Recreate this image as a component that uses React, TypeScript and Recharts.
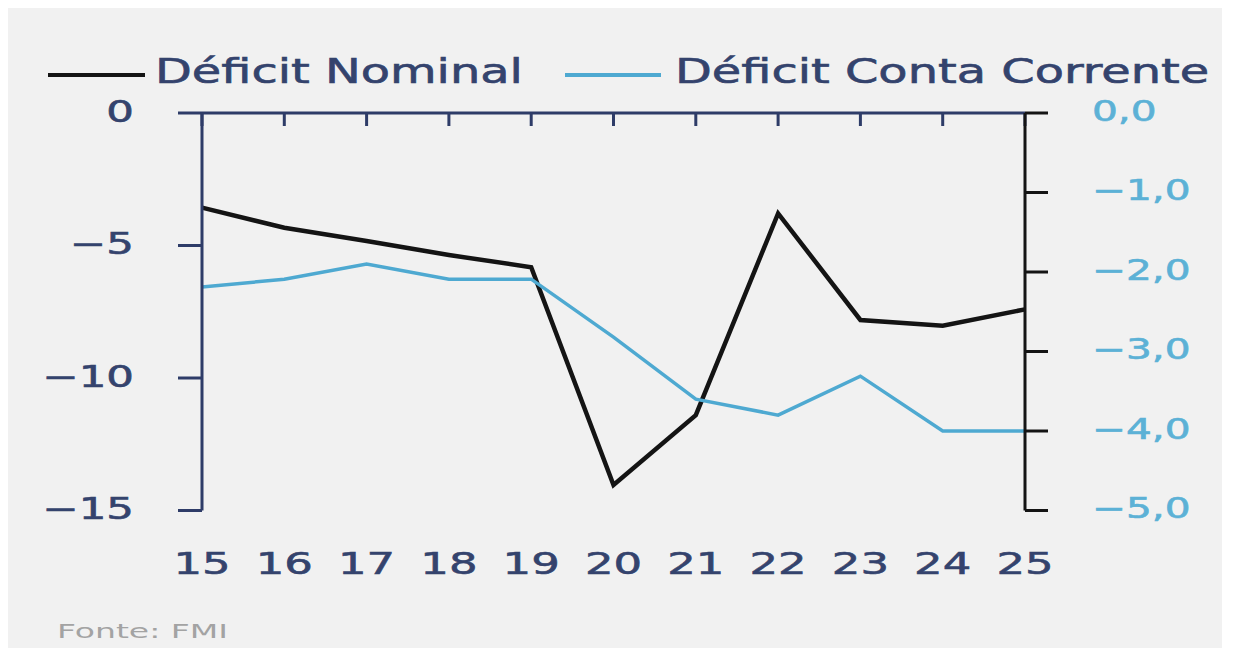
import React from "react";
import { LineChart, Line, XAxis, YAxis, Legend } from "recharts";

const years = ["15", "16", "17", "18", "19", "20", "21", "22", "23", "24", "25"];
const deficitNominal = [-3.57, -4.33, -4.83, -5.36, -5.82, -14.04, -11.4, -3.79, -7.81, -8.03, -7.41];
const deficitContaCorrente = [-2.19, -2.09, -1.9, -2.09, -2.09, -2.82, -3.6, -3.8, -3.31, -4.0, -4.0];
const leftTicks = [0, -5, -10, -15];
const rightTicks = [0, -1, -2, -3, -4, -5];
const seriesNames = ["Déficit Nominal", "Déficit Conta Corrente"];

const data = years.map((year, i) => ({
    year,
    nominal: deficitNominal[i],
    corrente: deficitContaCorrente[i],
}));

const FONT = "'DejaVu Sans', sans-serif";
const NAVY = "#2e3c68";
const TEXT_NAVY = "#34436d";
const BLUE = "#4ea9d1";
const BLUE_TEXT = "#5cb1d6";
const BLACK = "#141414";
const SX = 1.45; // source picture is stretched sideways

const fmtLeft = (v: number) => (v < 0 ? "\u2212" + Math.abs(v) : String(v));
const fmtRight = (v: number) =>
    (v < 0 ? "\u2212" : "") + Math.abs(v).toFixed(1).replace(".", ",");

const Stretched = ({ x, y, anchor, fill, size, children }: any) => (
    <text
        x={x}
        y={y}
        dy="0.355em"
        textAnchor={anchor}
        fill={fill}
        stroke={fill}
        strokeWidth={0.6}
        fontSize={size}
        fontFamily={FONT}
        transform={`translate(${x} 0) scale(${SX} 1) translate(${-x} 0)`}>
        {children}
    </text>
);

// legend slot per series, in the order of seriesNames
const legendSlots = [
    { x1: 40, x2: 137, tx: 147 },
    { x1: 557, x2: 653, tx: 667 },
];

const LegendContent = ({ payload }: any) => (
    <svg width={1214} height={60} style={{ display: "block" }}>
        {(payload || []).map((entry: any) => {
            const s = legendSlots[seriesNames.indexOf(entry.value)];
            if (!s) return null;
            return (
                <g key={`leg-${entry.value}`}>
                    <line x1={s.x1} x2={s.x2} y1={27} y2={27} stroke={entry.color} strokeWidth={4} />
                    <Stretched x={s.tx} y={23} anchor="start" fill={TEXT_NAVY} size={33}>
                        {entry.value}
                    </Stretched>
                </g>
            );
        })}
    </svg>
);

export default function App() {
    return (
        <div style={{ position: "relative", width: 1214, height: 640, background: "#f1f1f1" }}>
            <LineChart width={1214} height={640} data={data} margin={{ top: 104, right: 0, bottom: 0, left: 0 }}>
                <XAxis
                    xAxisId="top"
                    dataKey="year"
                    orientation="top"
                    height={1}
                    stroke={NAVY}
                    strokeWidth={3}
                    tickSize={-13}
                    interval={0}
                    tick={() => <g />}
                />
                <XAxis
                    xAxisId="bottom"
                    dataKey="year"
                    height={137.5}
                    axisLine={false}
                    tickLine={false}
                    tickSize={0}
                    tickMargin={52}
                    interval={0}
                    tick={(p: any) => (
                        <Stretched x={p.x} y={p.y} anchor="middle" fill={TEXT_NAVY} size={31}>
                            {p.payload.value}
                        </Stretched>
                    )}
                />
                <YAxis
                    yAxisId="left"
                    width={194}
                    domain={[-15, 0]}
                    ticks={leftTicks}
                    stroke={NAVY}
                    strokeWidth={3}
                    tickSize={24}
                    tickMargin={44}
                    tick={(p: any) => (
                        <Stretched x={p.x} y={p.y - 2} anchor="end" fill={TEXT_NAVY} size={30}>
                            {fmtLeft(p.payload.value)}
                        </Stretched>
                    )}
                />
                <YAxis
                    yAxisId="right"
                    orientation="right"
                    width={197}
                    domain={[-5, 0]}
                    ticks={rightTicks}
                    stroke={BLACK}
                    strokeWidth={3}
                    tickSize={23}
                    tickMargin={44}
                    tick={(p: any) => (
                        <Stretched x={p.x} y={p.y - 2} anchor="start" fill={BLUE_TEXT} size={28}>
                            {fmtRight(p.payload.value)}
                        </Stretched>
                    )}
                />
                <Legend
                    layout="vertical"
                    align="center"
                    verticalAlign="middle"
                    wrapperStyle={{ top: 40, left: 0, width: 1214, height: 60 }}
                    content={LegendContent}
                />
                <Line
                    xAxisId="bottom"
                    yAxisId="left"
                    dataKey="nominal"
                    name={seriesNames[0]}
                    stroke={BLACK}
                    strokeWidth={4.5}
                    dot={false}
                    isAnimationActive={false}
                />
                <Line
                    xAxisId="bottom"
                    yAxisId="right"
                    dataKey="corrente"
                    name={seriesNames[1]}
                    stroke={BLUE}
                    strokeWidth={3.5}
                    dot={false}
                    isAnimationActive={false}
                />
            </LineChart>
            <div
                style={{
                    position: "absolute",
                    left: 49,
                    top: 611,
                    fontFamily: FONT,
                    fontSize: 20,
                    color: "#a3a3a3",
                    transform: "scaleX(1.65)",
                    transformOrigin: "left center",
                    whiteSpace: "nowrap",
                }}>
                Fonte: FMI
            </div>
        </div>
    );
}
